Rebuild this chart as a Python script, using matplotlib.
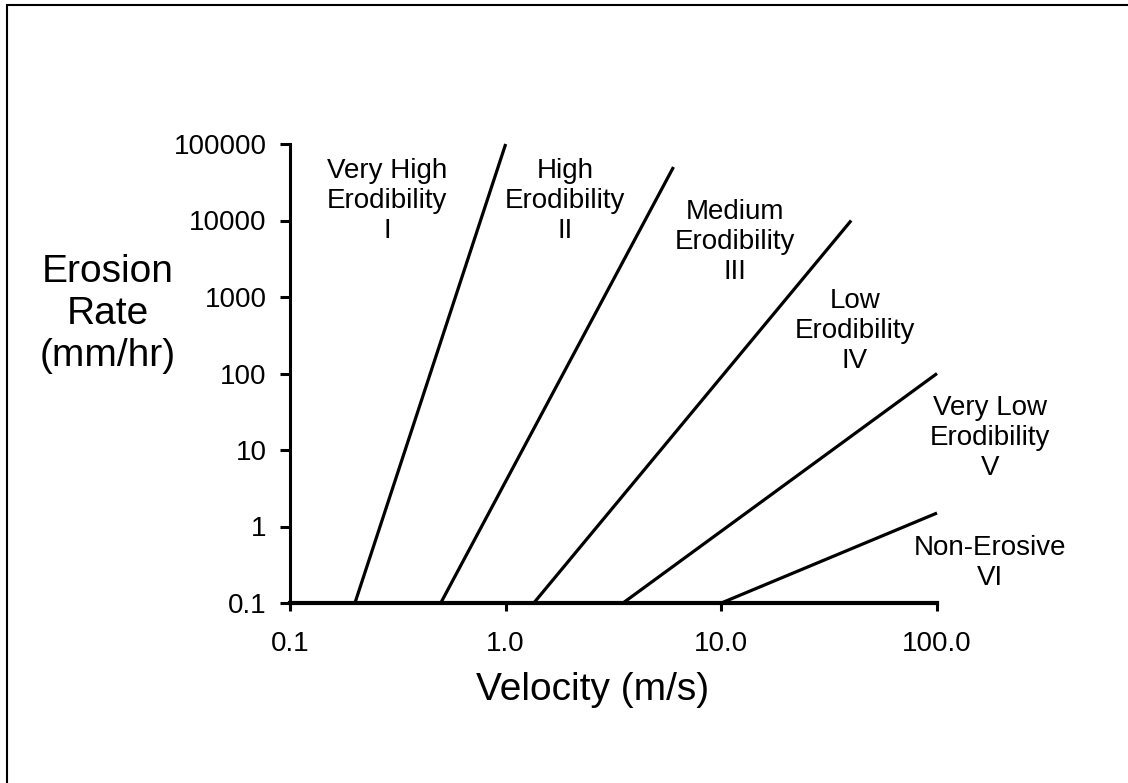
import matplotlib
matplotlib.use("Agg")
import matplotlib.pyplot as plt
from matplotlib.patches import Rectangle

plt.rcParams['font.family'] = ['Liberation Sans', 'DejaVu Sans']

# Erodibility class boundary lines: (start velocity, start rate) -> (end velocity, end rate)
line_x0 = [0.2, 0.5, 1.35, 3.5, 10.0]
line_y0 = [0.1, 0.1, 0.1, 0.1, 0.1]
line_x1 = [1.0, 6.0, 40.0, 100.0, 100.0]
line_y1 = [100000, 50000, 10000, 100, 1.5]

class_labels = ["Very High\nErodibility\nI", "High\nErodibility\nII",
                "Medium\nErodibility\nIII", "Low\nErodibility\nIV",
                "Very Low\nErodibility\nV", "Non-Erosive\nVI"]
# label centres in pixel space of the reference (x, y from top)
label_px = [387, 565, 735, 855, 990, 990]
label_py = [201, 201, 242, 331, 438, 563]

xticks = [0.1, 1.0, 10.0, 100.0]
xtick_labels = ["0.1", "1.0", "10.0", "100.0"]
yticks = [0.1, 1, 10, 100, 1000, 10000, 100000]
ytick_labels = ["0.1", "1", "10", "100", "1000", "10000", "100000"]

W, H = 1128, 783
fig = plt.figure(figsize=(W/100, H/100), dpi=100)
ax = fig.add_axes([290/W, 1-603/H, 647/W, 459/H])
ax.set_xscale('log')
ax.set_yscale('log')
ax.set_xlim(0.1, 100)
ax.set_ylim(0.1, 100000)

for x0, y0, x1, y1 in zip(line_x0, line_y0, line_x1, line_y1):
    ax.plot([x0, x1], [y0, y1], color='black', lw=2.3, solid_capstyle='butt', clip_on=False)

for s, px, py in zip(class_labels, label_px, label_py):
    fig.text(px/W, 1-py/H, s, ha='center', va='center', fontsize=20, linespacing=1.2)

for side in ['top', 'right']:
    ax.spines[side].set_visible(False)
ax.spines['bottom'].set_linewidth(3)
ax.spines['left'].set_linewidth(2.2)

ax.set_xticks(xticks)
ax.set_xticklabels(xtick_labels, fontsize=20)
ax.set_yticks(yticks)
ax.set_yticklabels(ytick_labels, fontsize=20)
ax.minorticks_off()
ax.tick_params(axis='x', length=6, width=2.2, pad=14)
ax.tick_params(axis='y', length=7, width=2.2, pad=10)

fig.text(593/W, 1-690/H, "Velocity (m/s)", ha='center', va='center', fontsize=28)
fig.text(108/W, 1-314/H, "Erosion\nRate\n(mm/hr)", ha='center', va='center', fontsize=28, linespacing=1.2)

fig.patches.append(Rectangle((7/W, -0.1), 1.2, 1.1 - 5/H, transform=fig.transFigure,
                             fill=False, edgecolor='black', lw=1.5, clip_on=False))

fig.savefig("out.png", dpi=100)
